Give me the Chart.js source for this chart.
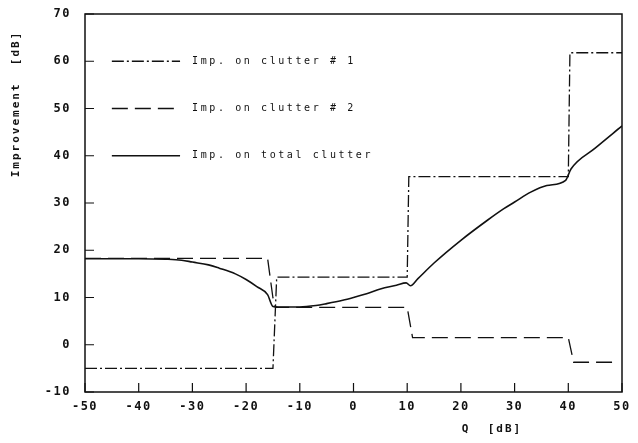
<!DOCTYPE html>
<html>
<head>
<meta charset="utf-8">
<script src="https://cdn.jsdelivr.net/npm/chart.js@4"></script>
<style>
  html,body{margin:0;padding:0;background:#fff;}
  #wrap{width:638px;height:443px;}
</style>
</head>
<body>
<div id="wrap"><canvas id="chart" width="638" height="443"></canvas></div>
<script>
// Data
const clutter1Q   = [-50, -15, -14.3, 10, 10.3, 40, 40.3, 50];
const clutter1Imp = [-5, -5, 14.3, 14.3, 35.6, 35.6, 61.8, 61.8];

const clutter2Q   = [-50, -16, -15, -14.5, 10, 11, 40, 41, 49];
const clutter2Imp = [18.3, 18.3, 9.9, 7.9, 7.9, 1.5, 1.5, -3.7, -3.7];

const totalQ   = [-50, -40, -35, -32, -30, -27, -25, -22, -20, -18, -16, -15, -14, -10, -7, -5, -2, 0, 3, 5, 8, 9.8, 10.6, 12, 15, 20, 25, 28, 30, 33, 36, 39.5, 40.5, 45, 50];
const totalImp = [18.2, 18.2, 18.1, 17.9, 17.5, 16.9, 16.2, 15.0, 13.8, 12.3, 10.6, 8.1, 8.0, 8.0, 8.3, 8.7, 9.4, 10.0, 11.0, 11.8, 12.6, 13.1, 12.5, 14.0, 17.3, 22.1, 26.4, 28.8, 30.2, 32.3, 33.7, 34.8, 37.2, 41.6, 46.3];

const legendLabels = ['Imp. on clutter # 1', 'Imp. on clutter # 2', 'Imp. on total clutter'];
const xTicks = [-50, -40, -30, -20, -10, 0, 10, 20, 30, 40, 50];
const yTicks = [-10, 0, 10, 20, 30, 40, 50, 60, 70];

const ink = '#111';
const mono = '"DejaVu Sans Mono", "Liberation Mono", monospace';

function pts(q, v){ return q.map((x,i)=>({x, y:v[i]})); }

// plotter-style wide lettering for the tick labels
const spacing = {
  id:'spacing',
  beforeDraw(chart){ chart.ctx.letterSpacing = '1.5px'; }
};

// frame, inward ticks, legend and axis titles
const paperPlot = {
  id:'paperPlot',
  afterDraw(chart){
    const {ctx, chartArea:a, scales:{x, y}} = chart;
    ctx.save();
    ctx.strokeStyle = ink;
    ctx.lineWidth = 1.5;
    ctx.strokeRect(a.left, a.top, a.right-a.left, a.bottom-a.top);
    ctx.lineWidth = 1.2;
    ctx.beginPath();
    xTicks.forEach(t=>{ const px=x.getPixelForValue(t); ctx.moveTo(px,a.bottom); ctx.lineTo(px,a.bottom-9); });
    yTicks.forEach(t=>{ const py=y.getPixelForValue(t); ctx.moveTo(a.left,py); ctx.lineTo(a.left+9,py); });
    ctx.stroke();

    // legend inside plot
    const lx0 = x.getPixelForValue(-45), lx1 = x.getPixelForValue(-32.3);
    [60, 50, 40].forEach((val,i)=>{
      const ds = chart.data.datasets[i];
      const py = y.getPixelForValue(val);
      ctx.setLineDash(ds.borderDash || []);
      ctx.lineWidth = ds.borderWidth;
      ctx.beginPath(); ctx.moveTo(lx0,py); ctx.lineTo(lx1,py); ctx.stroke();
      ctx.setLineDash([]);
      ctx.fillStyle = ink;
      ctx.font = '500 10px ' + mono;
      ctx.letterSpacing = '2.6px';
      ctx.textBaseline = 'middle';
      ctx.fillText(legendLabels[i], lx1 + 12, py);
    });

    // axis titles
    ctx.font = 'bold 11px ' + mono;
    ctx.letterSpacing = '2px';
    ctx.fillStyle = ink;
    ctx.textAlign = 'center';
    ctx.textBaseline = 'middle';
    ctx.fillText('Q  [dB]', 492, 429);
    ctx.translate(16, 104);
    ctx.rotate(-Math.PI/2);
    ctx.fillText('Improvement  [dB]', 0, 0);
    ctx.restore();
  }
};

new Chart(document.getElementById('chart'), {
  type:'line',
  data:{
    datasets:[
      {label:legendLabels[0], data:pts(clutter1Q, clutter1Imp), borderColor:ink, borderWidth:1.3, borderDash:[12,3,2,3], pointRadius:0, tension:0},
      {label:legendLabels[1], data:pts(clutter2Q, clutter2Imp), borderColor:ink, borderWidth:1.3, borderDash:[16,7], pointRadius:0, tension:0},
      {label:legendLabels[2], data:pts(totalQ, totalImp), borderColor:ink, borderWidth:1.6, pointRadius:0, cubicInterpolationMode:'monotone'}
    ]
  },
  options:{
    responsive:false,
    animation:false,
    layout:{padding:{left:0, right:16, top:14, bottom:0}},
    plugins:{legend:{display:false}, tooltip:{enabled:false}},
    scales:{
      x:{
        type:'linear', min:-50, max:50,
        afterBuildTicks:s=>{ s.ticks = xTicks.map(v=>({value:v})); },
        afterFit:s=>{ s.height = 51; s.paddingLeft = 0; s.paddingRight = 0; },
        grid:{display:false, drawTicks:false},
        border:{display:false},
        ticks:{color:ink, padding:8, maxRotation:0, font:{family:mono, size:12, weight:'bold'}}
      },
      y:{
        type:'linear', min:-10, max:70,
        afterBuildTicks:s=>{ s.ticks = yTicks.map(v=>({value:v})); },
        afterFit:s=>{ s.width = 85; s.paddingTop = 0; s.paddingBottom = 0; },
        grid:{display:false, drawTicks:false},
        border:{display:false},
        ticks:{color:ink, padding:14, font:{family:mono, size:12, weight:'bold'}}
      }
    }
  },
  plugins:[spacing, paperPlot]
});
</script>
</body>
</html>
